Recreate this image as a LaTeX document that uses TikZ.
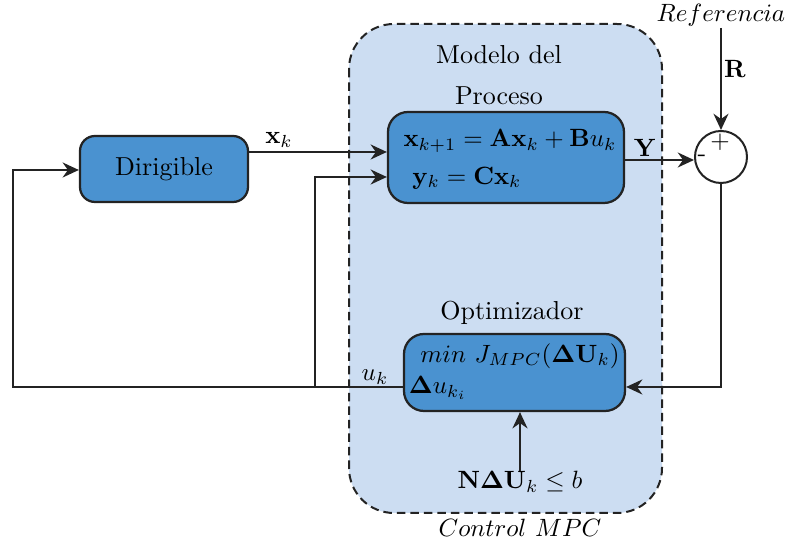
\documentclass[tikz,border=0pt]{standalone}
\usetikzlibrary{arrows.meta,calc}
\definecolor{regionfill}{RGB}{204,221,242}
\definecolor{boxfill}{RGB}{74,146,208}
\definecolor{edge}{RGB}{35,35,35}
\tikzset{
  every node/.append style={font=\fontsize{10.4}{12.5}\selectfont},
  blk/.style={draw=edge,fill=boxfill,line width=0.9pt,rounded corners=7pt},
  arr/.style={draw=edge,line width=0.8pt,-{Stealth[length=6.5pt,width=6pt]}},
  wire/.style={draw=edge,line width=0.8pt},
  lbl/.style={inner sep=0pt,text=black},
}
\begin{document}
\begin{tikzpicture}[x=0.4pt,y=-0.4pt]
\useasboundingbox (0,0) rectangle (789,544);

% MPC controller region
\draw[fill=regionfill,draw=edge,line width=0.8pt,dash pattern=on 3.4pt off 2pt,rounded corners=18pt]
  (349,24) rectangle (662,513);

\node[lbl] (modtxt) at (499,55) {Modelo del};
\node[lbl] (proctxt) at (499,96) {Proceso};
\node[lbl] (opttxt) at (512,313) {Optimizador};
\node[lbl] (ctrltxt) at (520,528) {$Control\ MPC$};

% blocks
\node[blk,minimum width=67.2pt,minimum height=26.4pt,rounded corners=6pt] (dir) at (164,169) {Dirigible};
\node[blk,minimum width=94.4pt,minimum height=36.4pt,rounded corners=8pt] (proc) at (506,157.5) {};
\node[lbl] (eq1) at (510,141) {$\mathbf{x}_{k+1} = \mathbf{A}\mathbf{x}_k + \mathbf{B}u_k$};
\node[lbl] (eq2) at (467,178) {$\mathbf{y}_k = \mathbf{C}\mathbf{x}_k$};

\node[blk,minimum width=88.4pt,minimum height=30.8pt,rounded corners=8pt] (opt) at (514.5,372.5) {};
\node[lbl] (cost) at (520,356) {$min\ J_{MPC}(\mathbf{\Delta U}_k)$};
\node[lbl] (du) at (438,388) {$\mathbf{\Delta} u_{k_i}$};

% summing junction
\node[circle,draw=edge,line width=0.8pt,fill=white,minimum size=20.8pt,inner sep=0pt] (sum) at (721,157) {};
\node[lbl] (plus) at (720,142) {$+$};
\node[lbl] (minus) at (702,158) {-};

% external labels
\node[lbl] (ref) at (721,15) {$Referencia$};
\node[lbl] (rlbl) at (735,69) {$\mathbf{R}$};
\node[lbl] (ylbl) at (645,148) {$\mathbf{Y}$};
\node[lbl] (xk) at (279,140) {$\mathbf{x}_k$};
\node[lbl] (uk) at (375,377) {$u_k$};
\node[lbl] (cons) at (520,482) {$\mathbf{N\Delta U}_k \leq b$};

% connectors
\coordinate (fbL) at (13,387);
\coordinate (tap) at (315,387);
\draw[arr] (dir.east |- 0,152) -- (proc.west |- 0,152);
\draw[arr] (tap) -- (315,177) -- (proc.west |- 0,177);
\draw[arr] (opt.west |- fbL) -- (fbL) -- (13,170) -- (dir.west |- 0,170);
\draw[arr] (proc.east |- 0,160) -- (sum.west |- 0,160);
\draw[arr] (ref.south |- 0,28) -- (sum.north);
\draw[arr] (sum.south) -- (721,387) -- (opt.east |- 0,387);
\draw[arr] (cons.north) -- (opt.south -| cons.north);
\end{tikzpicture}
\end{document}
